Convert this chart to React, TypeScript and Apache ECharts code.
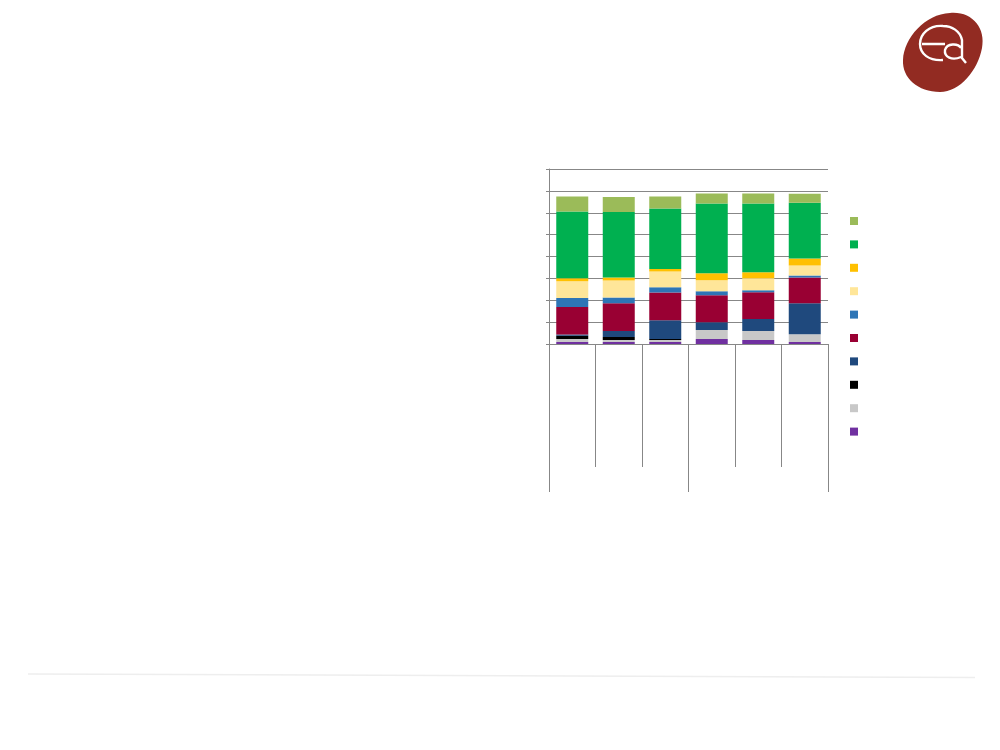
import React, { useEffect, useRef } from "react";
import * as echarts from "echarts";

const categories = ["c1", "c2", "c3", "c4", "c5", "c6"];
const groups = ["g1", "g2"];

const seriesNames = ["s1", "s2", "s3", "s4", "s5", "s6", "s7", "s8", "s9", "s10"];
const purple = [0.9, 0.9, 0.9, 2.3, 1.8, 0.9];
const lightGray = [1.4, 0.9, 0.9, 4.1, 4.1, 3.6];
const black = [1.5, 1.4, 0.5, 0, 0, 0];
const darkBlue = [0.5, 2.7, 8.6, 3.6, 5.5, 14.1];
const crimson = [12.6, 12.7, 12.7, 12.3, 12.3, 11.8];
const blue = [4.1, 2.7, 2.3, 1.8, 0.9, 0.9];
const paleYellow = [7.7, 7.7, 7.3, 5.0, 5.5, 4.6];
const gold = [1.4, 1.4, 1.1, 3.2, 2.7, 3.2];
const green = [30.5, 30.0, 27.6, 31.9, 31.4, 25.5];
const olive = [6.8, 6.8, 5.5, 4.6, 4.6, 4.1];

const stackValues = [purple, lightGray, black, darkBlue, crimson, blue, paleYellow, gold, green, olive];
const colors = ["#7030A0", "#C8C8C8", "#000000", "#1F497D", "#990033", "#2E75B6", "#FFE699", "#FFC000", "#00B050", "#9BBB59"];

const yMin = 0;
const yMax = 80;
const yInterval = 10;

const blobPath = "M 950 13 C 972 11 986 28 982 48 C 978 70 960 92 940 92 C 918 92 902 78 903 60 C 904 38 925 14 950 13 Z";
const letterPath =
  "M 943 26 C 929 25 920 34 920 44 C 920 54 929 61 943 60 M 922 44 L 945 44 M 943 26 C 952 26 960 31 962 40 L 962 58 L 966 63 M 961 48 C 958 43 947 43 945 50 C 944 57 952 61 961 57";

let registered = false;
function registerShapes() {
  if (registered) return;
  echarts.graphic.registerShape("logoBlob", echarts.graphic.extendPath(blobPath, {}) as any);
  echarts.graphic.registerShape("logoLetters", echarts.graphic.extendPath(letterPath, {}) as any);
  registered = true;
}

export default function App() {
  const ref = useRef<HTMLDivElement>(null);
  useEffect(() => {
    document.body.style.margin = "0";
    registerShapes();
    const chart = echarts.init(ref.current!, null, { renderer: "svg" });
    const lineColor = "#878787";
    chart.setOption({
      animation: false,
      backgroundColor: "#ffffff",
      grid: { left: 549, right: 172, top: 169, bottom: 406, containLabel: false },
      legend: {
        orient: "vertical",
        left: 850,
        top: 217,
        padding: 0,
        itemWidth: 8,
        itemHeight: 8,
        itemGap: 15.4,
        icon: "rect",
        data: [...seriesNames].reverse(),
        formatter: () => "",
        selectedMode: false,
      },
      xAxis: [
        {
          type: "category",
          data: categories,
          position: "bottom",
          boundaryGap: true,
          axisLine: { show: true, lineStyle: { color: lineColor, width: 1 } },
          axisTick: { show: true, alignWithLabel: false, length: 123, lineStyle: { color: lineColor, width: 1 } },
          axisLabel: { show: false },
          splitLine: { show: false },
        },
        {
          type: "category",
          data: groups,
          position: "bottom",
          offset: 0,
          boundaryGap: true,
          axisLine: { show: false },
          axisTick: { show: true, alignWithLabel: false, length: 148, lineStyle: { color: lineColor, width: 1 } },
          axisLabel: { show: false },
          splitLine: { show: false },
        },
      ],
      yAxis: {
        type: "value",
        min: yMin,
        max: yMax,
        interval: yInterval,
        axisLine: { show: true, lineStyle: { color: lineColor, width: 1 } },
        axisTick: { show: true, length: 3, lineStyle: { color: lineColor, width: 1 } },
        axisLabel: { show: false },
        splitLine: { show: true, lineStyle: { color: lineColor, width: 1 } },
      },
      series: stackValues.map((vals, i) => ({
        name: seriesNames[i],
        type: "bar",
        stack: "total",
        xAxisIndex: 0,
        barWidth: 32,
        data: vals,
        itemStyle: { color: colors[i] },
      })),
      color: colors,
      graphic: [
        {
          type: "line",
          shape: { x1: 28, y1: 674, x2: 975, y2: 677.5 },
          style: { stroke: "#eeeeee", lineWidth: 1.5 },
          silent: true,
        },
        {
          type: "logoBlob",
          x: 0,
          y: 0,
          style: { fill: "#922B22" },
          silent: true,
        },
        {
          type: "logoLetters",
          x: 0,
          y: 0,
          style: { fill: "none", stroke: "#ffffff", lineWidth: 2.4 },
          silent: true,
        },
      ],
    });
    return () => chart.dispose();
  }, []);
  return <div ref={ref} style={{ width: 1000, height: 750 }} />;
}
